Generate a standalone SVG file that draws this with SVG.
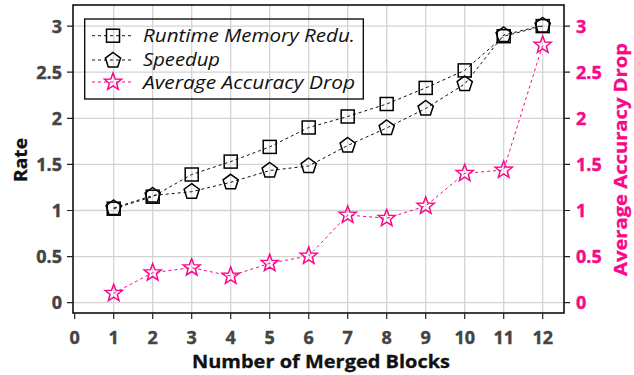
<svg xmlns="http://www.w3.org/2000/svg" xmlns:xlink="http://www.w3.org/1999/xlink" width="634" height="375" viewBox="0 0 634 375">
<style>
.grid{stroke:#d4d4d4;stroke-width:1.3;fill:none}
.frame{stroke:#000;stroke-width:1.5;fill:none}
.tick{stroke:#222;stroke-width:1.2}
.tl{font-family:"Open Sans","DejaVu Sans",sans-serif;font-weight:bold;font-size:18px;fill:#444;stroke:#444;stroke-width:0.4}
.tr{font-family:"Open Sans","DejaVu Sans",sans-serif;font-weight:bold;font-size:18px;fill:#f8098a;stroke:#f8098a;stroke-width:0.4}
.title{font-family:"Open Sans","DejaVu Sans",sans-serif;font-weight:bold;font-size:18.5px;fill:#111;stroke:#111;stroke-width:0.3}
.xt{font-size:18px}
.leg{font-family:"Open Sans","DejaVu Sans",sans-serif;font-style:italic;font-size:18.5px;fill:#111}
.lk{stroke:#111;stroke-width:1;stroke-dasharray:3,3;fill:none}
.lp{stroke:#f8098a;stroke-width:1;stroke-dasharray:3,3;fill:none}
.mk{stroke:#000;stroke-width:1.5;fill:none}
.mp{stroke:#f8098a;stroke-width:1.5;fill:none}
</style>
<defs>
<rect id="sq" x="-6.5" y="-6.5" width="13" height="13"/>
<path id="pent" d="M0,-8 L7.61,-2.47 L4.7,6.47 L-4.7,6.47 L-7.61,-2.47 Z"/>
<path id="star" d="M0,-9 L2.23,-3.07 L8.56,-2.78 L3.61,1.17 L5.29,7.28 L0,3.8 L-5.29,7.28 L-3.61,1.17 L-8.56,-2.78 L-2.23,-3.07 Z"/>
</defs>
<rect width="634" height="375" fill="#fff"/>
<g id="grid">
<path class="grid" d="M73,26.1H564M73,72.2H564M73,118.3H564M73,164.4H564M73,210.5H564M73,256.6H564M73,302.7H564"/>
<path class="grid" d="M113.7,5V313M152.7,5V313M191.7,5V313M230.7,5V313M269.7,5V313M308.7,5V313M347.7,5V313M386.7,5V313M425.7,5V313M464.7,5V313M503.7,5V313M542.7,5V313"/>
</g>
<g id="axes">
<rect class="frame" x="73" y="5" width="491" height="308"/>
<path class="tick" d="M67,26.1H73M67,72.2H73M67,118.3H73M67,164.4H73M67,210.5H73M67,256.6H73M67,302.7H73"/>
<path class="tick" d="M564,26.1H570M564,72.2H570M564,118.3H570M564,164.4H570M564,210.5H570M564,256.6H570M564,302.7H570"/>
<path class="tick" d="M74.7,313V319M113.7,313V319M152.7,313V319M191.7,313V319M230.7,313V319M269.7,313V319M308.7,313V319M347.7,313V319M386.7,313V319M425.7,313V319M464.7,313V319M503.7,313V319M542.7,313V319"/>
<g class="tl" text-anchor="end">
<text x="62" y="32.5">3</text><text x="62" y="78.6">2.5</text><text x="62" y="124.7">2</text><text x="62" y="170.8">1.5</text><text x="62" y="216.9">1</text><text x="62" y="263">0.5</text><text x="62" y="309.1">0</text>
</g>
<g class="tr">
<text x="576" y="32.5">3</text><text x="576" y="78.6">2.5</text><text x="576" y="124.7">2</text><text x="576" y="170.8">1.5</text><text x="576" y="216.9">1</text><text x="576" y="263">0.5</text><text x="576" y="309.1">0</text>
</g>
<g class="tl" text-anchor="middle">
<text x="74.7" y="343.5">0</text><text x="113.7" y="343.5">1</text><text x="152.7" y="343.5">2</text><text x="191.7" y="343.5">3</text><text x="230.7" y="343.5">4</text><text x="269.7" y="343.5">5</text><text x="308.7" y="343.5">6</text><text x="347.7" y="343.5">7</text><text x="386.7" y="343.5">8</text><text x="425.7" y="343.5">9</text><text x="464.7" y="343.5">10</text><text x="503.7" y="343.5">11</text><text x="542.7" y="343.5">12</text>
</g>
<text class="title xt" x="192" y="368" textLength="258" lengthAdjust="spacingAndGlyphs">Number of Merged Blocks</text>
<text class="title" transform="translate(27,182) rotate(-90)" textLength="44" lengthAdjust="spacingAndGlyphs">Rate</text>
<text class="title" transform="translate(627,276) rotate(-90)" textLength="233" lengthAdjust="spacingAndGlyphs" style="fill:#f8098a;stroke:#f8098a">Average Accuracy Drop</text>
</g>
<g id="connectors">
<polyline class="lk" points="113.7,208.7 152.7,196.7 191.7,174.5 230.7,161.6 269.7,146.9 308.7,127.5 347.7,116.5 386.7,104 425.7,87.9 464.7,70.4 503.7,36.2 542.7,26.1"/>
<polyline class="lk" points="113.7,208 152.7,195.5 191.7,191.7 230.7,182.3 269.7,170.5 308.7,166 347.7,145.5 386.7,128 425.7,108.5 464.7,84 503.7,35 542.7,25.5"/>
<polyline class="lp" points="113.7,293.3 152.7,272.7 191.7,267.7 230.7,276 269.7,263.3 308.7,256 347.7,215 386.7,218.3 425.7,206 464.7,173.3 503.7,170 542.7,45"/>
</g>
<g id="series-memory" class="mk">
<use xlink:href="#sq" x="113.7" y="208.7"/><use xlink:href="#sq" x="152.7" y="196.7"/><use xlink:href="#sq" x="191.7" y="174.5"/><use xlink:href="#sq" x="230.7" y="161.6"/><use xlink:href="#sq" x="269.7" y="146.9"/><use xlink:href="#sq" x="308.7" y="127.5"/><use xlink:href="#sq" x="347.7" y="116.5"/><use xlink:href="#sq" x="386.7" y="104"/><use xlink:href="#sq" x="425.7" y="87.9"/><use xlink:href="#sq" x="464.7" y="70.4"/><use xlink:href="#sq" x="503.7" y="36.2"/><use xlink:href="#sq" x="542.7" y="26.1"/>
</g>
<g id="series-speedup" class="mk">
<use xlink:href="#pent" x="113.7" y="208"/><use xlink:href="#pent" x="152.7" y="195.5"/><use xlink:href="#pent" x="191.7" y="191.7"/><use xlink:href="#pent" x="230.7" y="182.3"/><use xlink:href="#pent" x="269.7" y="170.5"/><use xlink:href="#pent" x="308.7" y="166"/><use xlink:href="#pent" x="347.7" y="145.5"/><use xlink:href="#pent" x="386.7" y="128"/><use xlink:href="#pent" x="425.7" y="108.5"/><use xlink:href="#pent" x="464.7" y="84"/><use xlink:href="#pent" x="503.7" y="35"/><use xlink:href="#pent" x="542.7" y="25.5"/>
</g>
<g id="series-accuracy" class="mp">
<use xlink:href="#star" x="113.7" y="293.3"/><use xlink:href="#star" x="152.7" y="272.7"/><use xlink:href="#star" x="191.7" y="267.7"/><use xlink:href="#star" x="230.7" y="276"/><use xlink:href="#star" x="269.7" y="263.3"/><use xlink:href="#star" x="308.7" y="256"/><use xlink:href="#star" x="347.7" y="215"/><use xlink:href="#star" x="386.7" y="218.3"/><use xlink:href="#star" x="425.7" y="206"/><use xlink:href="#star" x="464.7" y="173.3"/><use xlink:href="#star" x="503.7" y="170"/><use xlink:href="#star" x="542.7" y="45"/>
</g>
<g id="legend">
<rect x="84.7" y="19" width="278.6" height="80" fill="none" stroke="#000" stroke-width="1.3"/>
<path class="lk" d="M92,35.7H132M92,60H132"/>
<path class="lp" d="M92,82H132"/>
<use xlink:href="#sq" x="113" y="35.7" class="mk"/>
<use xlink:href="#pent" x="113" y="60.5" class="mk"/>
<use xlink:href="#star" x="113" y="82" class="mp"/>
<text class="leg" x="143" y="42" textLength="212" lengthAdjust="spacingAndGlyphs">Runtime Memory Redu.</text>
<text class="leg" x="143" y="66" textLength="77" lengthAdjust="spacingAndGlyphs">Speedup</text>
<text class="leg" x="143" y="89" textLength="212" lengthAdjust="spacingAndGlyphs">Average Accuracy Drop</text>
</g>
</svg>
